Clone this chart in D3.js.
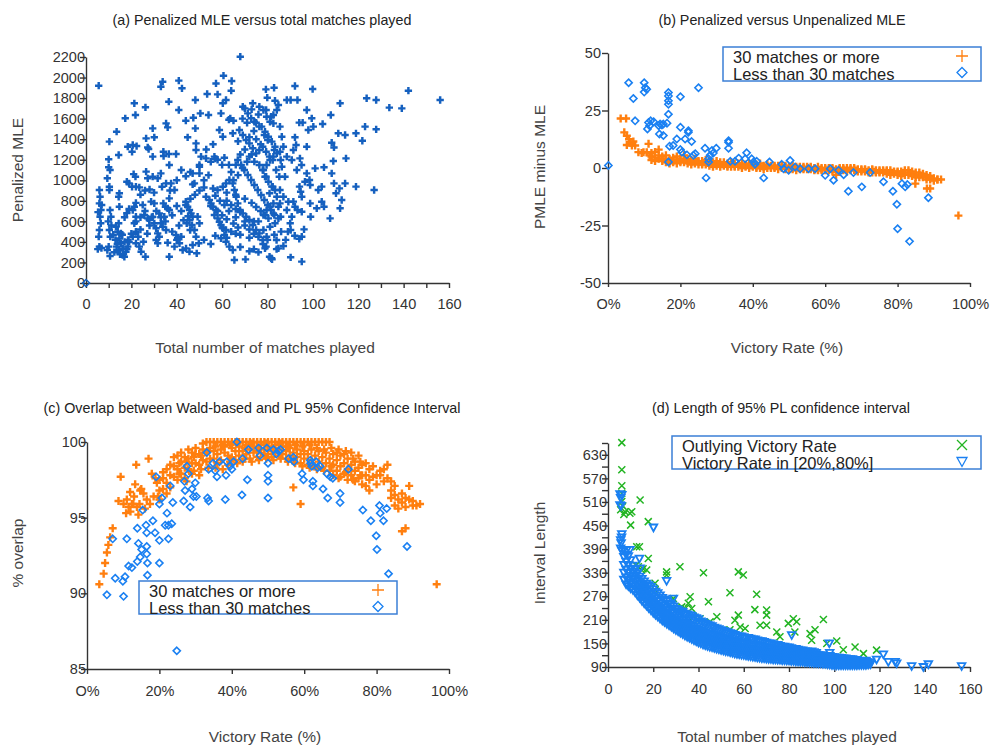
<!DOCTYPE html>
<html>
<head>
<meta charset='utf-8'>
<title>Penalized MLE panels</title>
<style>
body{margin:0;background:#fff;}
svg text{font-family:'Liberation Sans',Arial,sans-serif;}
</style>
</head>
<body>
<div id='chart'></div>
<script src='https://cdn.jsdelivr.net/npm/d3@7'></script>
<script>

// ---- data ----

// (a) [total matches, penalized MLE]
var aPoints = [
[5.6,1921],[68,2203],[33.8,1960],[33,1911],[40.9,1970],[42.3,1895],[60.6,2018],[57.3,1943],[64.2,1966],[53.4,1840],[48.2,1781],[58,1836],[64,1872],
[21.3,1749],[26.2,1710],[21.8,1635],[17.3,1603],[13.5,1473],[10.3,1376],[10,1204],
[36.5,1765],[40.9,1684],[35.3,1554],[36,1515],[29.4,1505],[30.1,1418],[26.5,1408],[27.2,1320],[27.6,1304],
[20.6,1343],[22.3,1333],[20.3,1278],[18.4,1327],[14.4,1246],
[44,1580],[47.3,1609],[50.4,1651],[48.2,1505],[44.8,1418],
[54,1635],[59.5,1651],[63.6,1603],[60.3,1749],[61.7,1781],[58.8,1489],[60.3,1424],[64.7,1457],
[39.7,1256],[36.5,1256],[34.1,1278],[34.2,1236],[29.4,1230],[36.7,1149],
[48.5,1359],[48.5,1294],[50.7,1230],[52.9,1213],[56.6,1230],[50,1067],[47,1067],[47.8,970],[50,1132],
[26.5,1084],[27.2,1019],[29.4,1035],[31.6,1019],[33,1067],[33.5,937],[35.3,970],[37.5,970],[39,905],[36.7,824],[36,727],[34.1,775],
[19,970],[20.3,937],[22,937],[23.5,931],[21.8,1035],[18,986],
[9.4,1019],[10.3,937],[10.6,1100],[10,1126],
[5.9,905],[6.2,840],[5.9,775],[6.6,710],[6.2,645],[6.5,581],[5.9,516],[5.6,451],[5.9,354],[5.2,330],[6.8,340],[5.3,690],[6.9,760],
[10.3,905],[10.6,710],[11,645],[10.3,516],[10.7,451],[10,354],[9.4,321],[10.6,263],[9.8,600],[11.2,560],
[13.2,548],[14,499],[14.7,434],[15.4,386],[13.5,354],[14.4,321],[16.2,272],[16.9,256],[17.6,305],[18.4,354],[16.2,337],[15.4,483],[14.4,581],[14.7,873],[14.4,840],[14.7,743],[12.5,300],[13,420],[17,400],[16,470],[18.5,420],[12,470],[15,280],[13.8,380],
[21.3,743],[20.6,710],[22,645],[21.3,581],[22,499],[20.6,451],[22,386],[23.5,354],[24.3,305],[25.3,402],[26.2,256],
[25.7,662],[27.2,629],[27.9,613],[29.4,645],[30.1,581],[30.9,532],[31.6,483],[32.3,451],[33,581],[33.8,548],[35.3,516],[34.5,645],[36.7,710],[35,743],[32.3,678],[30.1,775],[28.7,792],
[30.9,418],[31.6,386],[36,392],[36.7,256],[39.7,467],[40.4,435],[41.2,386],[39,354],[42.6,321],[44.1,337],[45.6,305],[47,370],[48.8,289],[49.7,386],
[44,791],[44.8,743],[45.6,710],[46.3,678],[47,645],[45.6,613],[44.4,581],[46.7,564],[47.8,516],[48.5,451],[45.9,516],[49.2,645],[50,581],
[52.9,840],[54.4,808],[55.1,775],[55.9,743],[57.3,710],[56.6,662],[58,629],[58.8,597],[59.5,564],[60.3,532],[61.7,516],[61,467],[59.5,435],[61.7,402],[63.2,354],[64.7,321],[65.4,224],[70.3,230],
[58,905],[60.3,937],[61.7,970],[63.2,1003],[64.7,970],[65.4,905],[66.2,840],[66.9,775],[67.9,710],[69.1,678],[70.6,645],[72,613],[73.5,564],[75,516],[76.4,483],[77.9,418],[79.4,354],[80.9,256],[81.6,240],
[67.6,1489],[69.1,1440],[70.6,1392],[72,1359],[73.5,1311],[75,1262],[76.4,1294],[77.9,1327],[79.4,1278],[80.9,1230],[82.3,1197],[83,1295],[80.1,1392],[78.6,1440],[76.4,1522],[74.2,1570],[72.8,1603],[71.3,1651],[69.1,1716],[73.5,1749],[76.4,1716],[79.4,1684],[81.6,1619],[82.6,1554],
[66.9,1197],[68.4,1149],[69.8,1100],[71.3,1051],[72.8,1003],[74.2,954],[75.7,905],[77.2,856],[78.6,808],[80.1,759],[81.6,710],[83,662],[80.9,873],[82.3,938],[79.4,1035],[77.9,1100],[76.4,1149],[74.2,1181],[72,1230],
[79.3,1885],[82.9,1901],[92.1,1918],[99.9,1888],[79.9,1804],[83.3,1775],[88.5,1781],[90.2,1781],[93.2,1781],
[112,1749],[123.7,1798],[127.9,1781],[142.1,1872],[156.1,1781],[133.7,1707],[139.2,1700],
[97.3,1684],[99.5,1603],[100.2,1522],[104.3,1548],[95.5,1561],[94,1561],[98,1489],[107.9,1635],
[111.2,1457],[114.2,1441],[119,1457],[123,1522],[127.9,1496],[121.8,1385],
[108.3,1366],[109.3,1320],[97.3,1327],[92.1,1418],[92.6,1343],[91.4,1294],
[114.6,1213],[109,1187],[104.9,1126],[101,1116],[94.3,1213],[95,1149],[92.9,1100],[88.5,1230],[90.7,1197],[87,1327],[85.5,1278],[86.3,1132],[87.7,1035],
[97.3,1067],[98.5,1003],[96.5,986],[98.8,954],[102.4,905],[103.9,938],[108.3,1067],[109.3,970],[111.7,921],[114.2,970],[119,938],[127,905],
[94.1,938],[94.6,889],[95.1,840],[91.4,792],[92.1,743],[93.2,710],[90.7,645],[88.5,710],[89.2,791],[87,840],[85.5,775],[85.8,645],[90,581],[90.2,516],
[95.1,694],[98.8,775],[101.7,727],[103.9,791],[104.9,743],[107.6,629],[112,727],[112.7,808],[110.2,873],[99,645],[95.1,451],[96.1,522],
[78.9,337],[84.8,337],[81.8,240],[90.2,250],[95.1,208],[84,418],[79.6,451],[78.2,516],[81.1,548],[83.3,581],[84.8,629],
[78.2,1684],[79.6,1619],[81.1,1570],[82.6,1635],[84.1,1684],[84.8,1733],[77.4,1522],[78.9,1473],[80.4,1424],[81.9,1376],[83.3,1327],[84.1,1262],[82.6,1230],[81.1,1197],[79.6,1149],[78.2,1100],[78.9,1035],[80.4,986],[81.9,938],[83.3,905],[84.1,840],[82.6,775],[81.1,743],[79.6,710],[78.2,662],[80.4,629],[82.6,678],[84.8,743],[85.5,905],[85.2,1035],[83.8,1100],[85.8,1197],[86.3,1424],[85.5,1522],
[62,800],[64,760],[66,720],[68,690],[60,660],[62,620],[65,580],[67,540],[70,560],[72,520],[74,480],[76,450],[72,440],[68,470],[64,500],[60,540],[58,700],[55,750],[57,850],[62,880],[66,860],[70,820],[73,780],[75,740],[77,700],[79,660],[76,600],[74,600],[70,600],[66,640],[63,700],[61,760],[59,800],[56,920],[64,1080],[66,1150],[68,1250],[70,1300],[72,1420],[74,1480],[75,1560],[76,1640],[71,1560],[69,1600],[70,1700],[73,1690],[75,1400],[77,1350],[73,1250],[71,1180],[69,1120],[67,1050],[65,1000],[63,1150],[61,1220],[67,1380],[65,1580],[63,1590],
[52,420],[55,380],[57,460],[62,440],[66,480],[68,350],[72,310],[74,330],[76,300],[78,380],[80,420],[83,470],[86,500],[88,420],[87,360],[84,330],[82,230],[89,500],[92,460],[94,430],
[40,420],[42,450],[38,500],[41,560],[43,610],[45,650],[42,700],[40,750],[38,660],[44,760],[46,820],[48,860],[50,900],[52,930],[47,960],[44,1040],[42,1100],[46,1080],[40,1000],[37,900],[52,1000],[54,1050],[50,1150],[55,1180],[57,1210],[53,1300],[56,1350],[58,1200],[60,1150],
[22,600],[24,640],[26,700],[28,560],[24,520],[20,480],[19,400],[18,330],[23,450],[27,480],[29,640],[31,700],[33,640],[35,600],[30,880],[28,910],[26,900],[24,860],[22,780],[25,760],[18,680],[17,640],[19,720],[21,1060]
];
var aOrigin = [[0,0]];

// (b) [victory rate %, PMLE minus MLE]
var bMoreSingles = [[3.5,21.5],[5,21.5],[4.5,15.5],[5.2,14],[5.8,12.5],[5.2,10],[6.2,11],[6.6,9.8],[7.5,9.8],[7,11.5],[8.4,6.9],[9.3,6.5],[9.8,6.9],[10.7,6.9],[11.2,10.5],[11.5,5.5],
  [84.9,-6.8],[88.1,-8.9],[89,-8.9],[96.8,-20.7]];
var bMoreBand = [
[12,[5,6.5,3.5]],[13,[4.5,7,3]],[14,[5.5,4,8]],[15,[4,5,3]],[16,[3.5,5.5,2.5]],[17,[4,3,2]],[18,[3,4.5,2.5]],[19,[3.5,2,5]],
[20,[3,2.5,4]],[21,[2.5,3.5,5.5]],[22,[3,2,4]],[23,[2.5,3.5,1.5]],[24,[2,3,4]],[25,[2.5,1.5,3]],[26,[2,3,1.5]],[27,[2.5,1.5,3.5]],
[28,[2,1,3]],[29,[1.5,2.5,0.5]],[30,[2,1,3]],[31,[1.5,2.5,0.5]],[32,[1.5,1,2.5]],[33,[2,1,0.5]],[34,[1.5,0.5,2.5]],[35,[1,2,0.5]],
[36,[1.5,0.5,2]],[37,[1,2,0]],[38,[1.5,0.5,1]],[39,[1,0,2]],[40,[1,0.5,1.5]],[41,[0.5,1.5,0]],[42,[1,0,2]],[43,[0.5,1,-0.5]],
[44,[1,0,1.5]],[45,[0.5,1,0]],[46,[0,1,0.5]],[47,[0.5,-0.5,1]],[48,[0,1,0.5]],[49,[0.5,-0.5,1]],[50,[0.5,0,-0.5]],[51,[0,1,-0.5]],
[52,[0.5,0,-1]],[53,[0,0.5,-0.5]],[54,[-0.5,0.5,0]],[55,[0,0.5,-0.5]],[56,[-0.5,0,0.5]],[57,[0,-0.5,-1]],[58,[-0.5,0.5,-1]],[59,[0,-0.5,-1]],
[60,[-0.5,0,-1]],[61,[-1,0,-0.5]],[62,[-0.5,-1.5,0]],[63,[-1.5,-0.5,-3]],[64,[-1,0,-0.5]],[65,[-0.5,-1,0]],[66,[-1,0,-1.5]],[67,[-0.5,-1,0]],
[68,[-1,-0.5,0]],[69,[-1,-1.5,-0.5]],[70,[-1,-0.5,-1.5]],[71,[-1,-1.5,-0.5]],[72,[-1.5,-1,-2]],[73,[-1,-2,-0.5]],[74,[-1.5,-1,-2]],[75,[-1.5,-1,-2]],
[76,[-2,-1,-1.5]],[77,[-1.5,-2.5,-1]],[78,[-2,-1,-3]],[79,[-2,-1.5,-2.5]],[80,[-2,-1.5,-3]],[81,[-2.5,-1.5,-3.5]],[82,[-2,-3,-1]],[83,[-2,-3,-1]],
[84,[-2.5,-3.5,-1.5]],[85,[-3,-2,-4]],[86,[-3,-2,-4]],[87,[-4,-3.5,-2.5]],[88,[-4,-3,-5]],[89,[-4.5,-5,-3.5]],[90,[-4.5,-5.5]],[91,[-5,-5]],[92,[-5]]
];
var bLess = [[0.1,1.1],[5.7,37.1],[7,30.2],[7.5,20.5],[10,37.1],[10.3,34.9],[10.7,34.2],[10,33],
[11.2,19.8],[11.5,18.4],[11.8,20.5],[12.6,20.1],[10.9,17],[14,18.4],[14.4,19.1],[14.9,18.7],[15.3,19.1],[14.2,14.8],[15.3,14.1],[16.3,19.5],
[16.7,32.8],[16.7,31.3],[16.7,29.2],[16.7,27.7],[16.7,23.4],[16.7,2.6],[20,31],[20,17.7],[19,12.6],[18,9.8],[17,9.5],[21.3,12.6],
[22.2,16.2],[22.2,15.5],[23.1,11.5],[20.4,6.9],[20,8],[21.8,5.7],[23.6,5.5],[24.1,6.2],[25,34.9],
[26.8,8.6],[27.1,-4.3],[27.8,4],[28.2,5.5],[28.7,7.6],[29.1,6.5],[29.9,8.6],[27.8,2.6],
[33.3,11.9],[33.3,11.2],[33.3,8.6],[33.8,2.9],[35.1,2.9],[36.1,4.3],[37.9,4],[38.3,6.6],[39.7,4],[40.2,2.6],[40.6,1.6],[41.1,2.9],
[43,-4.3],[44.6,2.6],[48,1.6],[48.5,-0.3],[49.9,-1],[50.3,3.3],[51.7,0.4],[53.1,-0.3],[55.4,-0.3],[57.2,-0.3],[60,-3.2],[61.4,-0.3],
[62.3,-5.3],[63.7,-1],[65.1,-2.9],[66.4,-10.1],[67.8,-2],[70.1,-8.2],[72.4,-2],[76.1,-6],[78.7,-10.1],[79.8,-15.8],[80,-26.4],
[81.2,-6.8],[82.1,-8.2],[82.7,-7.2],[83.3,-31.9],[88.5,-12.9]];

// (c) [victory rate %, % overlap]
var cMoreSingles = [[3.4,90.6],[4.6,91.3],[5,92],[5.5,92.7],[5.9,93.2],[6.4,93.7],[7.1,94.3],[8.7,96.1],[9.3,97.7],[10.1,95.9],
[10.8,95.3],[11.5,95.7],[11.9,96.7],[12.4,95.9],[12.8,95.9],[13.3,97.2],[13.6,98.5],[13.8,95.7],[14.2,95.2],[14.7,96.8],
[15.6,96.6],[16.5,96.2],[17,98.9],[17.4,95.9],[17.9,97.9],[18.4,96.4],[19.3,97.3],[96.6,90.6],
[11,96.2],[12,95.4],[13,96.4],[14.5,95.9],[15,96.9],[16,95.6],[18.9,97.6],[19.6,96.4]];
var cMoreBand = [
[20,[96.8,97.5,96.2]],[21,[97.6,96.9,98]],[22,[98.2,97.3,96.6]],[23,[98.5,97.8,97]],[24,[97.7,98.4,99]],[25,[99.1,98.2,97.5]],
[26,[98.7,99.3,97.9]],[27,[98.3,99,97.6]],[28,[98.9,99.5,98.2]],[29,[99.3,98.6,97.9]],[30,[98.6,99.2,99.6]],[31,[99.2,98.5,97.8]],
[32,[99.5,98.8,99.9]],[33,[100,99.3,98.7]],[34,[100,99.6,98.9]],[35,[98.9,99.4,100]],[36,[100,99.2,98.6]],[37,[100,99.5,98.8]],
[38,[100,99.3,99.7]],[39,[100,99.1,98.5]],[40,[100,99.6,99]],[41,[100,99.4,98.8]],[42,[100,99.7,99.1]],[43,[100,99.4,98.7]],
[44,[100,99.8,99.2]],[45,[100,99.5,98.9]],[46,[100,99.7,99.3]],[47,[100,99.4,99]],[48,[100,99.8,99.3]],[49,[100,99.5,99.1]],
[50,[100,99.7,99.2]],[51,[100,99.4,99]],[52,[100,99.8,99.3]],[53,[100,99.5,99.1]],[54,[100,99.7,99.2]],[55,[100,99.4,98.9]],
[56,[100,99.6,99.1]],[57,[100,99.3,98.8,97]],[58,[100,99.5,99]],[59,[100,99.2,98.6,95.9]],[60,[100,99.4,98.9]],[61,[100,99.2,98.5]],
[62,[100,99.5,98.8]],[63,[100,99.1,98.4]],[64,[100,99.4,98.7]],[65,[100,99,98.3]],[66,[100,99.3,98.6]],[67,[100,98.9,98.1]],
[68,[99.2,98.5,97.8]],[69,[98.8,99.3,98.1]],[70,[99.1,98.4,97.7]],[71,[98.6,99.2,97.9]],[72,[98.9,98.2,97.5]],[73,[99.3,98.5,97.8]],
[74,[98.7,98.1,97.4]],[75,[99.1,98.3,97.6]],[76,[98.5,97.8,97.2]],[77,[97.8,98.6,97.1]],[78,[98.2,97.5,96.8]],[79,[98.4,97.7]],
[80,[97.8,97.2]],[81,[97.8,98.1]],[82,[98.2,97.4]],[83,[98.5,97.6]],[84,[97.4,96.8,96.3]],[85,[97.1,96.5,95.8]],[86,[96.2,95.6]],
[87,[96.6,96,94.1]],[88,[95.7,94.3,96.3]],[89,[97.1,96.2]],[90,[95.8,96.1]],[91,[95.8]],[92,[95.9]],
[25.5,[98.6,97.9]],[27.5,[98.7,97.4]],[29.5,[99,98.1]],[31.5,[99.1,98.2]],[33.5,[99.4,98.3]],[35.5,[99.7,98.3]],[37.5,[99.8,98.2]],
[39.5,[99.8,98.7]],[41.5,[99.9,98.6]],[43.5,[99.6,98.9]],[45.5,[99.9,98.7]],[47.5,[99.6,98.8]],[49.5,[99.9,98.9]],[51.5,[99.6,98.8]],
[53.5,[99.9,98.9]],[55.5,[99.7,98.7]],[57.5,[99.8,98.6]],[59.5,[99.7,98.4]],[61.5,[99.8,98.3]],[63.5,[99.6,98.2]],[65.5,[99.5,98.1]],
[67.5,[99.6,98.4]],[69.5,[99.5,97.6]],[71.5,[99.4,98]],[73.5,[98.9,97.5]],[75.5,[98.7,97.8]]
];
var cLess = [[5.5,89.9],[7.1,93.6],[7.8,91],[9.9,90.8],[10.1,89.8],[10.5,91.1],[11,93.6],[11.5,91.8],[12.4,91.7],[13.9,94.3],
[14.2,93.3],[13.9,92.1],[14.7,92.4],[15.1,92.9],[15.4,95.5],[16.3,94.5],[16.5,94],[16.5,93.1],[16.5,92.6],[16.7,92],[16.7,91.2],
[18.2,94.8],[18.8,94],[19.1,97.7],[20,93.5],[20,92],[20,95.9],[20.7,96.3],[21.6,94.5],[22.1,95.3],[22.5,94.5],[22.5,93.6],[23,97.1],
[23.4,94.6],[23.7,96],[24.8,86.2],[26.7,96.1],[26.9,97.4],[27.1,96.8],[27.6,98.4],[28,97.9],[28.5,95.7],[29,96.9],[29.4,96.4],
[29.9,97.3],[30.2,96.4],[33.1,99.3],[33.3,96.3],[33.6,96.1],[33.6,98.2],[34.8,98.6],[35.4,98.1],[35.9,97.7],[36.6,98.7],[38.2,96.2],
[38.4,97.8],[38.6,98.7],[39.5,98.4],[40,98.2],[40.5,98.7],[41.4,100],[42.8,96.5],[43,98.9],[44.3,97.5],[44.6,99.5],[47.4,99.6],
[47.8,99.1],[49.7,99.6],[50,98.6],[50,97.8],[50,97.4],[50,96.3],[51.5,99.5],[52.3,99.2],[52.9,99.4],[53.5,99.5],[55.7,98.9],[57,99],
[57.2,98.7],[59.4,97.9],[59.8,97.5],[61.7,98.8],[61.8,98.6],[62.1,98.4],[62.4,97.4],[62.4,97.1],[63.3,98.7],[63.7,98.3],[64.4,98.4],
[65.2,96.9],[66.3,97.9],[66.5,96.3],[67.2,97.7],[67.9,97.6],[69.9,96.6],[69.9,96],[72.2,98.2],[76.2,95.5],[78.4,94.8],[79.9,93.8],
[80.1,92.9],[80.8,95.8],[81,95.3],[81.9,94.8],[82.8,95.6],[83.3,91.3],[88.4,93.1]];

// (d) [total matches, interval length]
var dOutlying = [[6.1,661],[6.1,592],[6.1,551],[6.1,532],[6.1,511],[5.6,490],[7.5,485],[9.7,481],[10.5,485],[10,451],[14.2,515],
[12.7,396],[13.9,396],[12.4,349],[13.4,345],[14.9,337],[17.1,337],[17.8,366],[17.8,460],[16.4,294],[20.8,303],[20.8,286],
[25.9,332],[25.9,324],[31.8,345],[28.9,264],[32.6,243],[34.1,239],[35.5,252],[36.3,269],[37,239],[37.7,218],[40.7,213],[42.2,330],
[44.4,256],[45.1,205],[48.1,218],[53.9,279],[53.9,185],[56.1,209],[57.6,332],[59.8,324],[57.6,222],[58.4,192],[60.6,188],[64.9,236],
[65.7,275],[70.1,235],[70.1,222],[67.2,196],[70.1,196],[74.6,179],[76,167],[79.7,201],[81.9,213],[83.4,205],[82.6,179],[89.3,175],
[90,158],[91.5,185],[95.2,211],[96.7,150],[101.1,156],[104,134],[109.2,141],[112.9,124],[118.7,133],[6.5,500],[7,478],[15.5,340]];
var dInRangeSingles = [[20.1,445],[6.1,528],[5.3,502],[6.1,428],[5.6,413],[6.1,386],[13.9,366],[14.2,341],[25.9,309],[28.9,264],
[81.2,171],[97.8,150],[118.7,109],[121.7,122],[123.9,103],[126.9,103],[127.6,99],[134.2,92],[139.4,90],[141.6,97],[156.3,92],[114.3,103],
[5.3,530],[5.6,520],[5.8,500],[6,420],[5.8,405],[5.6,392],[8.3,388],[9.7,388]];
var dInRangeBand = [
[7,[312,330,350,370,388]],[8,[300,318,338,358,376]],[9,[296,312,330,350,372]],[10,[290,305,322,340,362]],
[11,[286,300,316,332,348]],[12,[280,294,308,324,338]],[13,[272,286,300,314,328]],[14,[266,280,294,308,320]],
[15,[258,272,286,300,314]],[16,[252,266,280,294,308]],[17,[246,260,274,288,302]],[18,[240,254,268,282,298]],
[19,[234,248,262,276,294]],[20,[228,242,256,270,288]],[21,[223,236,250,264,282]],[22,[218,231,244,258,278]],
[23,[213,226,239,252,272]],[24,[208,221,234,247,266]],[25,[204,216,229,242,262]],[26,[200,212,224,237,258]],
[27,[196,208,220,233,252]],[28,[192,204,216,229,248]],[29,[188,200,212,225,244]],[30,[184,196,208,220,238]],
[31,[181,192,204,216,236]],[32,[177,188,200,212,232]],[33,[174,185,196,208,230]],[34,[170,181,192,204,226]],
[35,[167,178,189,200,224]],[36,[164,175,186,198,222]],[37,[161,172,183,195,220]],[38,[158,169,180,192,216]],
[39,[155,166,177,189,214]],[40,[152,163,174,186,212]],[41,[150,161,172,183,206]],[42,[147,158,169,180,204]],
[43,[145,156,167,178,200]],[44,[143,154,165,176,198]],[45,[141,152,163,174,196]],[46,[140,150,161,172,194]],
[47,[138,148,159,170,190]],[48,[136,146,157,168,188]],[49,[135,145,155,166,186]],[50,[133,143,153,164,184]],
[51,[132,142,152,162,182]],[52,[130,140,150,160,180]],[53,[129,139,149,159,178]],[54,[127,137,147,157,176]],
[55,[126,136,146,156,174]],[56,[124,134,144,154,172]],[57,[123,133,143,153,170]],[58,[122,132,142,152,168]],
[59,[121,131,141,151,168]],[60,[120,130,140,150,166]],[61,[119,129,139,149,164]],[62,[118,128,138,148,164]],
[63,[117,127,137,147,162]],[64,[116,126,136,146,160]],[65,[115,125,135,145,160]],[66,[114,124,134,144,158]],
[67,[113,123,133,143,156]],[68,[112,122,132,142,156]],[69,[112,121,131,141,154]],[70,[111,120,130,140,152]],
[71,[110,119,129,139,150]],[72,[110,119,128,138,150]],[73,[109,118,127,137,148]],[74,[109,117,126,136,146]],
[75,[108,117,126,135,146]],[76,[108,116,125,134,144]],[77,[107,116,124,133,142]],[78,[107,115,124,132,142]],
[79,[106,115,123,132,140]],[80,[106,114,122,131,140]],[81,[105,113,121,130,138]],[82,[105,113,121,129,136]],
[83,[104,112,120,128,136]],[84,[104,112,119,127,134]],[85,[103,111,119,126,132]],[86,[103,111,118,125,132]],
[87,[102,110,117,124,130]],[88,[102,110,117,124,130]],[89,[101,109,116,123,128]],[90,[101,109,116,123,130]],
[91,[100,108,115,122,128]],[92,[100,108,115,122,126]],[93,[99,107,114,120]],[94,[99,107,114,120]],
[95,[98,106,113,119]],[96,[98,106,112,118]],[97,[97,105,112,118]],[98,[96,104,111,118,126]],
[99,[95,103,110,116]],[100,[94,102,109,115]],[101,[94,102,108,114]],[102,[94,101,108,114]],
[103,[94,101,107,113]],[104,[94,100,106,112]],[105,[94,100,106,112]],[106,[94,100,105,110]],
[107,[94,99,105,110]],[108,[94,99,104,110]],[109,[94,99,104,108]],[110,[94,99,104,108]],
[111,[95,99,104]],[112,[95,99,104]],[113,[95,100,105]],[114,[95,100,106]],[115,[96,101]],[116,[97,102]]
];

// ticks / labels
var aXTicks = d3.range(0, 161, 10);
var aYTicks = d3.range(0, 2201, 200);
var bYTicks = [-50, -25, 0, 25, 50];
var rateTicks = [0, 20, 40, 60, 80, 100];
var cYTicks = [85, 90, 95, 100];
var dXTicks = d3.range(0, 161, 20);
var dYTicks = d3.range(90, 661, 30);

var legendMatches = ['30 matches or more', 'Less than 30 matches'];
var legendRate = ['Outlying Victory Rate', 'Victory Rate in [20%,80%]'];

// flatten [x,[y..]] columns into points
function flat(cols){
  var out = [];
  cols.forEach(function(c){ c[1].forEach(function(y){ out.push([c[0], y]); }); });
  return out;
}

var ORANGE = '#ff7f0f', BLUE = '#1a80f2', GREEN = '#22b422', DARKBLUE = '#1560bf';

var svg = d3.select('#chart').append('svg').attr('width', 991).attr('height', 746);

function styleAxis(g){
  g.selectAll('path,line').attr('stroke', '#333').attr('stroke-width', 1.4);
  g.selectAll('text').attr('font-size', 14.5).attr('fill', '#333');
}

// one panel: scales + axes + titles
function panel(o){
  var x = d3.scaleLinear().domain(o.xd).range([o.x0, o.x1]);
  var y = d3.scaleLinear().domain(o.yd).range([o.y0, o.y1]);
  var gx = svg.append('g').attr('transform', 'translate(0,' + o.y0 + ')')
    .call(d3.axisBottom(x).tickValues(o.xt).tickSize(o.xts).tickSizeOuter(0).tickPadding(o.xpad).tickFormat(o.xf));
  styleAxis(gx);
  var gy = svg.append('g').attr('transform', 'translate(' + o.x0 + ',0)')
    .call(d3.axisLeft(y).tickValues(o.yt).tickSize(6).tickSizeOuter(0).tickPadding(o.ypad).tickFormat(o.yf));
  styleAxis(gy);
  svg.append('text').attr('x', o.tx).attr('y', o.ty).attr('text-anchor', 'middle')
    .attr('font-size', 14.3).attr('fill', '#222').text(o.title);
  svg.append('text').attr('x', o.lx).attr('y', o.ly).attr('text-anchor', 'middle')
    .attr('font-size', 15.5).attr('fill', '#444').text(o.xlab);
  svg.append('text').attr('transform', 'translate(' + o.yx + ',' + o.yy + ') rotate(-90)')
    .attr('text-anchor', 'middle').attr('font-size', 15.5).attr('fill', '#444').text(o.ylab);
  return {x: x, y: y};
}

var plusPath = 'M-4,0H4M0,-4V4';
var xPath = 'M-3.5,-3.5L3.5,3.5M-3.5,3.5L3.5,-3.5';
var triPath = 'M-3.8,-3L3.8,-3L0,3.8Z';
var diamondPath = 'M0,-3.6L3.6,0L0,3.6L-3.6,0Z';
var crossPath = d3.symbol(d3.symbolCross, 30)();

function draw(pts, s, path, fill, stroke, sw){
  svg.append('g').selectAll('path').data(pts).enter().append('path')
    .attr('transform', function(d){ return 'translate(' + s.x(d[0]) + ',' + s.y(d[1]) + ')'; })
    .attr('d', path).attr('fill', fill).attr('stroke', stroke).attr('stroke-width', sw);
}

function legend(bx, by, bw, bh, labels, items){
  svg.append('rect').attr('x', bx).attr('y', by).attr('width', bw).attr('height', bh)
    .attr('fill', 'white').attr('stroke', '#3b7fd6').attr('stroke-width', 1.5);
  labels.forEach(function(t, i){
    svg.append('text').attr('x', bx + 10).attr('y', by + 16 + i * 16.5)
      .attr('font-size', 16.5).attr('fill', '#222').text(t);
    svg.append('path').attr('transform', 'translate(' + (bx + bw - 19) + ',' + (by + 9 + i * 16.5) + ')')
      .attr('d', items[i].d).attr('fill', 'none').attr('stroke', items[i].c).attr('stroke-width', 1.3);
  });
}

var rateFmt = function(d){ return d === 0 ? 'O%' : d + '%'; };
var legDiamond = 'M0,-5L5,0L0,5L-5,0Z';

// (a)
var A = panel({x0:86, x1:449, y0:283, y1:57, xd:[0,160], yd:[0,2200], xt:aXTicks, xts:5, xpad:11,
  xf:function(d){ return d % 20 === 0 ? d : ''; }, yt:aYTicks, ypad:-5, yf:function(d){ return d; },
  title:'(a) Penalized MLE versus total matches played', tx:262, ty:25,
  xlab:'Total number of matches played', lx:265, ly:353, ylab:'Penalized MLE', yx:23, yy:170});
draw(aPoints, A, crossPath, DARKBLUE, 'none', 0);
draw(aOrigin, A, diamondPath, 'none', DARKBLUE, 1.4);

// (b)
var B = panel({x0:608, x1:970, y0:283, y1:53, xd:[0,100], yd:[-50,50], xt:rateTicks, xts:4, xpad:12,
  xf:rateFmt, yt:bYTicks, ypad:1, yf:function(d){ return d; },
  title:'(b) Penalized versus Unpenalized MLE', tx:782, ty:25,
  xlab:'Victory Rate (%)', lx:787, ly:353, ylab:'PMLE minus MLE', yx:545, yy:167});
draw(bMoreSingles.concat(flat(bMoreBand)), B, plusPath, 'none', ORANGE, 2.4);
draw(bLess, B, diamondPath, 'none', BLUE, 1.6);
legend(723, 47, 258, 34, legendMatches, [{d:'M-6,0H6M0,-6V6', c:ORANGE}, {d:legDiamond, c:BLUE}]);

// (c)
var C = panel({x0:87, x1:449, y0:669, y1:442, xd:[0,100], yd:[85,100], xt:rateTicks, xts:5, xpad:12,
  xf:rateFmt, yt:cYTicks, ypad:-5, yf:function(d){ return d; },
  title:'(c) Overlap between Wald-based and PL 95% Confidence Interval', tx:252, ty:413,
  xlab:'Victory Rate (%)', lx:265, ly:742, ylab:'% overlap', yx:23, yy:553});
draw(cMoreSingles.concat(flat(cMoreBand)), C, plusPath, 'none', ORANGE, 2.4);
draw(cLess, C, diamondPath, 'none', BLUE, 1.6);
legend(139, 581, 258, 33, legendMatches, [{d:'M-6,0H6M0,-6V6', c:ORANGE}, {d:legDiamond, c:BLUE}]);

// (d)
var D = panel({x0:608, x1:970, y0:667, y1:443, xd:[0,160], yd:[90,660], xt:dXTicks, xts:5, xpad:12,
  xf:function(d){ return d; }, yt:dYTicks, ypad:-5, yf:function(d){ return (d - 90) % 60 === 0 ? d : ''; },
  title:'(d) Length of 95% PL confidence interval', tx:781, ty:413,
  xlab:'Total number of matches played', lx:787, ly:742, ylab:'Interval Length', yx:545, yy:553});
draw(dOutlying, D, xPath, 'none', GREEN, 1.5);
draw(dInRangeSingles.concat(flat(dInRangeBand)), D, triPath, 'none', BLUE, 1.8);
legend(672, 436, 309, 33, legendRate, [{d:'M-5,-5L5,5M-5,5L5,-5', c:GREEN}, {d:'M-5,-4L5,-4L0,5Z', c:BLUE}]);

</script>
</body>
</html>
